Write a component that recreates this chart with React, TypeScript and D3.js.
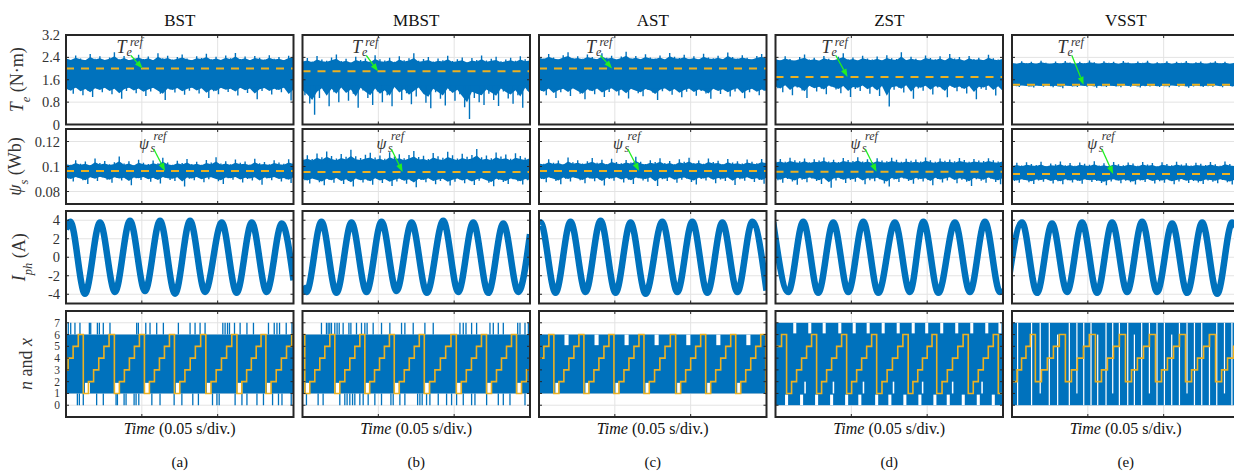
import React from 'react';
import * as d3 from 'd3';

// time axis in ms: 0..150 = three divisions of 0.05 s
const methods = ['BST', 'MBST', 'AST', 'ZST', 'VSST'];
const captions = ['(a)', '(b)', '(c)', '(d)', '(e)'];
const timeTicks = [50, 100];
const teTicks = [0, 0.8, 1.6, 2.4, 3.2];
const teTickLabels = ['0', '0.8', '1.6', '2.4', '3.2'];
const psiTicks = [0.08, 0.1, 0.12];
const psiTickLabels = ['0.08', '0.1', '0.12'];
const iTicks = [-4, -2, 0, 2, 4];
const iTickLabels = ['-4', '-2', '0', '2', '4'];
const nTicks = [0, 1, 2, 3, 4, 5, 6, 7];
const nTickLabels = ['0', '1', '2', '3', '4', '5', '6', '7'];

// reference values
const teRef = [2.0, 1.9, 2.0, 1.7, 1.42];
const psiRef = [0.0965, 0.0957, 0.0965, 0.0958, 0.094];
const teArrowT = [50.5, 49.8, 48.2, 47.5, 47.2];
const psiArrowT = [65.3, 66.0, 66.0, 66.6, 66.7];

// solid part of the ripple band (upper / lower)
const teCoreHi = [2.3, 2.2, 2.32, 2.28, 2.17];
const teCoreLo = [1.32, 1.4, 1.3, 1.42, 1.4];
const psiCoreHi = [0.1005, 0.1035, 0.101, 0.102, 0.0995];
const psiCoreLo = [0.092, 0.091, 0.092, 0.092, 0.0905];

// torque ripple extremes (upper / lower), 48 samples over 0..150 ms
const teHiBST = [2.42,2.31,2.47,2.36,2.28,2.52,2.35,2.44,2.31,2.40,2.58,2.33,2.45,2.29,2.38,2.49,2.34,2.43,2.30,2.55,2.37,2.46,2.32,2.41,2.50,2.36,2.29,2.44,2.38,2.53,2.33,2.42,2.31,2.47,2.37,2.56,2.34,2.43,2.30,2.45,2.39,2.32,2.48,2.35,2.41,2.29,2.46,2.50];
const teLoBST = [1.25,1.10,1.32,1.05,1.22,0.98,1.28,1.15,1.30,1.08,1.24,0.92,1.20,1.33,1.12,1.26,1.02,1.18,1.30,1.10,0.88,1.25,1.14,1.29,1.06,1.21,1.32,1.11,1.27,0.95,1.19,1.08,1.30,1.16,1.23,1.04,1.31,1.13,1.26,0.90,1.20,1.29,1.07,1.24,1.15,1.32,0.86,1.18];
const teHiMBST = [2.30,2.38,2.25,2.45,2.32,2.28,2.40,2.50,2.27,2.35,2.22,2.42,2.31,2.36,2.26,2.48,2.33,2.29,2.39,2.24,2.44,2.30,2.37,2.55,2.28,2.34,2.41,2.25,2.36,2.30,2.46,2.27,2.33,2.40,2.23,2.38,2.31,2.47,2.29,2.35,2.42,2.26,2.32,2.39,2.28,2.44,2.33,2.37];
const teLoMBST = [1.05,0.75,0.35,0.95,1.20,0.65,1.15,0.80,1.25,0.85,1.10,0.60,1.22,0.95,0.70,1.18,0.80,1.05,0.65,1.28,0.88,1.12,0.72,1.00,1.24,0.78,0.58,1.15,0.92,0.68,1.20,0.85,1.08,0.62,0.20,0.95,0.80,0.70,1.10,0.88,0.66,1.18,0.93,0.74,1.05,0.60,1.22,0.82];
const teHiAST = [2.45,2.36,2.52,2.40,2.33,2.48,2.58,2.38,2.44,2.35,2.50,2.41,2.34,2.55,2.39,2.46,2.32,2.43,2.60,2.37,2.45,2.34,2.51,2.40,2.36,2.47,2.33,2.56,2.42,2.38,2.49,2.35,2.44,2.31,2.53,2.40,2.37,2.46,2.34,2.57,2.41,2.36,2.48,2.39,2.33,2.45,2.52,2.40];
const teLoAST = [1.20,1.05,1.28,0.95,1.15,1.25,1.02,1.30,1.10,0.90,1.22,1.08,1.27,0.98,1.16,1.30,1.04,1.21,0.93,1.26,1.12,1.01,1.24,1.14,0.88,1.19,1.29,1.06,1.23,0.97,1.17,1.28,1.03,1.20,1.11,0.92,1.26,1.09,1.22,1.00,1.18,1.30,0.94,1.15,1.25,1.05,1.21,1.10];
const teHiZST = [2.38,2.30,2.44,2.34,2.27,2.41,2.50,2.32,2.39,2.28,2.45,2.35,2.31,2.42,2.55,2.33,2.40,2.29,2.46,2.36,2.32,2.43,2.30,2.48,2.37,2.34,2.58,2.31,2.42,2.35,2.29,2.47,2.38,2.33,2.44,2.30,2.52,2.36,2.41,2.28,2.45,2.34,2.39,2.31,2.49,2.37,2.32,2.43];
const teLoZST = [1.30,1.15,1.38,1.05,1.32,1.22,0.95,1.35,1.18,1.28,1.08,1.36,1.25,1.12,1.33,0.98,1.27,1.20,1.37,1.10,1.30,1.02,1.34,0.64,1.24,1.31,1.14,1.38,0.92,1.29,1.21,1.35,1.07,1.32,1.26,0.97,1.36,1.19,1.30,1.11,1.34,0.90,1.28,1.23,1.37,1.04,1.31,0.95];
const teHiVSST = [2.22,2.17,2.26,2.20,2.24,2.15,2.28,2.21,2.18,2.25,2.19,2.27,2.22,2.16,2.24,2.20,2.29,2.23,2.18,2.26,2.21,2.24,2.17,2.27,2.22,2.19,2.25,2.21,2.28,2.18,2.23,2.20,2.26,2.17,2.24,2.21,2.27,2.19,2.23,2.25,2.18,2.22,2.26,2.20,2.24,2.17,2.23,2.25];
const teLoVSST = [1.38,1.34,1.40,1.36,1.32,1.39,1.35,1.41,1.33,1.37,1.30,1.39,1.36,1.34,1.40,1.35,1.38,1.31,1.37,1.34,1.39,1.36,1.33,1.40,1.35,1.38,1.32,1.37,1.36,1.39,1.34,1.37,1.33,1.40,1.35,1.38,1.31,1.36,1.39,1.34,1.37,1.35,1.40,1.33,1.38,1.36,1.34,1.39];

// stator flux ripple extremes (Wb)
const psiHiBST = [0.1030,0.1015,0.1050,0.1022,0.1040,0.1012,0.1065,0.1028,0.1045,0.1018,0.1035,0.1080,0.1025,0.1042,0.1010,0.1055,0.1030,0.1020,0.1048,0.1026,0.1070,0.1033,0.1015,0.1046,0.1029,0.1060,0.1021,0.1038,0.1014,0.1052,0.1032,0.1075,0.1024,0.1043,0.1018,0.1057,0.1031,0.1040,0.1016,0.1063,0.1027,0.1036,0.1019,0.1050,0.1033,0.1022,0.1058,0.1035];
const psiLoBST = [0.0905,0.0880,0.0912,0.0890,0.0860,0.0908,0.0885,0.0915,0.0895,0.0870,0.0910,0.0888,0.0902,0.0850,0.0906,0.0892,0.0914,0.0878,0.0900,0.0865,0.0911,0.0893,0.0884,0.0908,0.0840,0.0903,0.0890,0.0913,0.0875,0.0899,0.0909,0.0882,0.0860,0.0906,0.0894,0.0912,0.0872,0.0901,0.0889,0.0910,0.0855,0.0904,0.0891,0.0914,0.0880,0.0898,0.0868,0.0907];
const psiHiMBST = [0.1070,0.1090,0.1060,0.1105,0.1075,0.1120,0.1085,0.1065,0.1100,0.1078,0.1135,0.1082,0.1068,0.1095,0.1110,0.1072,0.1088,0.1062,0.1115,0.1080,0.1098,0.1066,0.1092,0.1125,0.1076,0.1087,0.1060,0.1108,0.1083,0.1070,0.1118,0.1091,0.1064,0.1102,0.1079,0.1093,0.1140,0.1074,0.1089,0.1067,0.1112,0.1081,0.1096,0.1063,0.1106,0.1085,0.1071,0.1099];
const psiLoMBST = [0.0890,0.0865,0.0900,0.0875,0.0850,0.0895,0.0870,0.0905,0.0860,0.0885,0.0840,0.0898,0.0872,0.0888,0.0855,0.0902,0.0868,0.0892,0.0845,0.0880,0.0897,0.0862,0.0886,0.0835,0.0893,0.0874,0.0903,0.0858,0.0884,0.0896,0.0848,0.0878,0.0899,0.0866,0.0890,0.0852,0.0887,0.0901,0.0870,0.0843,0.0894,0.0877,0.0860,0.0898,0.0882,0.0856,0.0891,0.0873];
const psiHiAST = [0.1040,0.1022,0.1058,0.1030,0.1048,0.1018,0.1072,0.1035,0.1050,0.1025,0.1042,0.1068,0.1031,0.1055,0.1020,0.1062,0.1037,0.1027,0.1053,0.1033,0.1078,0.1039,0.1021,0.1051,0.1036,0.1066,0.1028,0.1045,0.1019,0.1059,0.1038,0.1070,0.1029,0.1049,0.1023,0.1064,0.1037,0.1046,0.1020,0.1060,0.1032,0.1043,0.1024,0.1056,0.1039,0.1027,0.1061,0.1041];
const psiLoAST = [0.0900,0.0875,0.0908,0.0885,0.0858,0.0903,0.0880,0.0910,0.0890,0.0866,0.0905,0.0883,0.0897,0.0848,0.0901,0.0887,0.0909,0.0873,0.0895,0.0860,0.0906,0.0888,0.0879,0.0903,0.0845,0.0898,0.0885,0.0908,0.0870,0.0894,0.0904,0.0877,0.0856,0.0901,0.0889,0.0907,0.0867,0.0896,0.0884,0.0905,0.0852,0.0899,0.0886,0.0909,0.0876,0.0893,0.0863,0.0902];
const psiHiZST = [0.1045,0.1060,0.1038,0.1070,0.1050,0.1042,0.1065,0.1035,0.1058,0.1048,0.1072,0.1040,0.1055,0.1037,0.1068,0.1052,0.1044,0.1075,0.1041,0.1059,0.1036,0.1066,0.1049,0.1043,0.1070,0.1054,0.1039,0.1062,0.1046,0.1057,0.1040,0.1073,0.1051,0.1038,0.1064,0.1047,0.1056,0.1042,0.1069,0.1053,0.1039,0.1061,0.1048,0.1044,0.1067,0.1050,0.1041,0.1063];
const psiLoZST = [0.0890,0.0870,0.0900,0.0880,0.0855,0.0895,0.0875,0.0905,0.0885,0.0860,0.0898,0.0830,0.0888,0.0902,0.0868,0.0893,0.0878,0.0906,0.0858,0.0891,0.0883,0.0899,0.0865,0.0840,0.0896,0.0876,0.0904,0.0884,0.0862,0.0897,0.0881,0.0892,0.0850,0.0900,0.0873,0.0889,0.0907,0.0866,0.0894,0.0879,0.0845,0.0898,0.0886,0.0870,0.0903,0.0877,0.0859,0.0895];
const psiHiVSST = [0.1015,0.1030,0.1008,0.1035,0.1020,0.1012,0.1038,0.1005,0.1025,0.1018,0.1040,0.1010,0.1028,0.1006,0.1033,0.1022,0.1014,0.1042,0.1009,0.1026,0.1004,0.1036,0.1019,0.1011,0.1032,0.1024,0.1007,0.1037,0.1016,0.1029,0.1003,0.1034,0.1021,0.1010,0.1039,0.1017,0.1027,0.1008,0.1031,0.1023,0.1013,0.1036,0.1018,0.1006,0.1041,0.1020,0.1012,0.1030];
const psiLoVSST = [0.0885,0.0870,0.0892,0.0875,0.0860,0.0888,0.0878,0.0895,0.0865,0.0882,0.0858,0.0890,0.0872,0.0886,0.0862,0.0893,0.0876,0.0884,0.0868,0.0850,0.0880,0.0891,0.0866,0.0887,0.0874,0.0856,0.0889,0.0877,0.0894,0.0864,0.0883,0.0871,0.0890,0.0859,0.0881,0.0896,0.0869,0.0885,0.0873,0.0861,0.0888,0.0879,0.0867,0.0892,0.0875,0.0857,0.0884,0.0870];

// phase current: [t ms, A] at peaks and troughs
const iphBST = [[0,3.0],[2.8,3.85],[12.5,-3.95],[22.4,3.75],[32.3,-3.75],[42.2,3.95],[52.1,-3.65],[62.0,3.95],[71.9,-3.95],[81.8,3.95],[91.7,-3.75],[102.7,3.75],[112.5,-3.85],[122.5,3.75],[132.3,-3.75],[142.3,3.65],[150,-2.5]];
const iphMBST = [[0,-3.1],[2.6,-3.75],[12.5,3.85],[22.4,-3.85],[32.3,3.75],[42.2,-3.75],[52.1,3.85],[62.0,-3.65],[71.9,3.75],[82.0,-3.85],[92.8,3.95],[102.7,-3.75],[112.6,3.75],[122.5,-3.85],[132.4,3.65],[142.3,-3.75],[150,2.5]];
const iphAST = [[0,3.6],[1.0,3.75],[10.9,-3.85],[20.8,3.85],[30.7,-3.75],[40.6,3.95],[50.5,-3.85],[60.4,3.75],[70.3,-3.95],[81.3,3.85],[91.2,-3.75],[101.1,3.85],[111.0,-3.85],[120.9,3.75],[130.8,-3.75],[140.7,3.85],[150,-3.6]];
const iphZST = [[-1.5,3.75],[8.4,-3.75],[18.3,3.85],[28.2,-3.85],[38.1,3.75],[48.0,-3.75],[57.9,3.85],[67.8,-3.85],[78.7,3.75],[88.6,-3.75],[97.5,3.85],[107.4,-3.85],[118.3,3.75],[128.2,-3.75],[138.1,3.85],[148.0,-3.75],[150,-3.5]];
const iphVSST = [[-3.3,-3.75],[6.6,3.75],[16.5,-3.85],[26.4,3.65],[36.3,-3.75],[46.2,3.75],[56.1,-3.85],[66.0,3.75],[75.9,-3.75],[85.8,3.85],[95.7,-3.75],[105.6,3.65],[115.5,-3.85],[125.4,3.75],[135.3,-3.95],[145.2,3.75],[150,2.7]];

// switching state n (blue): core band, spikes outside it, white gaps inside it
const nCore = [[1, 6], [1, 6], [1, 6], [0, 7], [0, 7]];
const nUpBST = [1.5,3.1,5.9,9.2,15.4,16.3,20.7,22.0,24.6,29.0,46.6,47.7,52.6,55.4,59.8,64.2,74.1,81.8,85.1,88.4,91.7,103.4,104.9,106.5,107.8,111.1,114.8,119.3,123.6,133.5,137.3,139.1,140.8,145.2,149.0];
const nDownBST = [7.5,8.8,11.4,20.2,24.6,33.0,33.9,38.3,39.6,44.9,46.2,48.0,56.6,62.0,71.3,76.4,83.6,87.3,96.6,99.5,101.0,111.5,116.0,119.3,125.9,130.2,136.2,140.1,142.4,148.5];
const nUpMBST = [12.5,15.8,16.9,18.0,19.1,21.3,22.8,24.2,26.8,30.6,31.9,35.6,38.9,41.1,42.6,46.6,52.1,57.6,65.3,67.5,73.0,80.7,86.2,103.8,106.0,107.8,111.5,114.8,123.6,125.8,129.1,132.4,141.9,143.4,146.7,148.9];
const nDownMBST = [2.6,10.3,13.6,24.6,27.9,29.4,31.2,33.0,34.5,37.8,40.0,43.3,47.7,52.1,58.3,59.8,64.2,67.5,75.9,77.4,78.9,81.8,84.0,89.5,95.0,98.3,101.6,106.0,111.5,113.7,121.4,129.1,132.4,136.8,146.7];
const nUp = [nUpBST, nUpMBST, [], [], []];
const nDown = [nDownBST, nDownMBST, [], [], []];

// [t0, t1, nLow, nHigh]
const nGapsBST = [[12.5,15.8,1,1.9],[32.3,35.6,1,1.9],[52.1,55.0,1,1.9],[72.4,75.2,1,1.9],[92.9,95.5,1,1.9],[113.0,116.2,1,1.9],[132.5,135.1,1,1.9]];
const nGapsMBST = [[2.0,4.5,1,1.9],[21.8,24.3,1,1.9],[41.6,44.1,1,1.9],[61.0,63.5,1,1.9],[80.8,83.3,1,1.9],[101.9,104.4,1,1.9],[121.8,124.3,1,1.9],[141.6,144.1,1,1.9]];
const nGapsAST = [[10.8,13.3,1,1.9],[30.6,33.1,1,1.9],[50.4,52.9,1,1.9],[70.2,72.7,1,1.9],[91.1,93.6,1,1.9],[110.9,113.4,1,1.9],[130.7,133.2,1,1.9],
  [16.8,19.5,5.1,6],[36.6,39.3,5.1,6],[56.4,59.1,5.1,6],[76.2,78.9,5.1,6],[97.1,99.8,5.1,6],[116.9,119.6,5.1,6],[136.7,139.4,5.1,6]];
const nGapsZST = [[11.7,13.7,6.1,7],[21.6,23.6,6.1,7],[31.1,33.1,6.1,7],[41.4,43.4,6.1,7],[50.9,52.9,6.1,7],[60.1,62.1,6.1,7],[70.0,72.0,6.1,7],[79.9,81.9,6.1,7],[89.8,91.8,6.1,7],[98.7,100.7,6.1,7],[108.6,110.6,6.1,7],[118.5,120.5,6.1,7],[128.4,130.4,6.1,7],[138.3,140.3,6.1,7],[147.0,149.0,6.1,7],
  [6.3,8.3,0,0.9],[16.2,18.2,0,0.9],[26.1,28.1,0,0.9],[36.0,38.0,0,0.9],[45.9,47.9,0,0.9],[54.6,56.6,0,0.9],[65.7,67.7,0,0.9],[74.4,76.4,0,0.9],[84.3,86.3,0,0.9],[94.2,96.2,0,0.9],[104.1,106.1,0,0.9],[112.9,114.9,0,0.9],[122.8,124.8,0,0.9],[132.7,134.7,0,0.9],[142.6,144.6,0,0.9],
  [19.0,20.0,1,2],[37.7,38.7,1,2],[57.5,58.5,1,2],[77.3,78.3,1,2],[96.5,97.5,1,2],[116.3,117.3,1,2],[135.7,136.7,1,2]];
const nGapsVSST = [[3.3,4.1,0,7],[12.5,13.3,0,7],[18.2,19.0,1,7],[24.2,25.0,0,7],[29.7,30.5,0,6],[37.4,38.2,0,7],[42.4,43.2,1,7],[46.9,47.7,0,7],[51.7,52.5,0,7],[56.1,56.9,0,6],[61.6,62.4,0,7],[66.0,66.8,1,7],[70.4,71.2,0,7],[75.9,76.7,0,7],[80.3,81.1,0,6],[85.1,85.9,0,7],[90.2,91.0,1,7],[95.2,96.0,0,7],[100.1,100.9,0,7],[104.9,105.7,0,6],[110.0,110.8,0,7],[115.0,115.8,1,7],[119.9,120.7,0,7],[124.7,125.5,0,7],[129.8,130.6,0,6],[134.6,135.4,0,7],[139.7,140.5,1,7],[144.6,145.4,0,7]];
const nGaps = [nGapsBST, nGapsMBST, nGapsAST, nGapsZST, nGapsVSST];

// sector number x (yellow): [t ms, sector] at each step
const xBST = [[0,3],[1.4,4],[4.7,5],[8.1,6],[11.4,1],[14.8,2],[18.2,3],[21.6,4],[25.0,5],[28.4,6],[31.9,1],[35.2,2],[38.5,3],[41.8,4],[45.1,5],[48.4,6],[51.7,1],[55.0,2],[58.3,3],[61.6,4],[64.9,5],[68.2,6],[71.5,1],[75.0,2],[78.4,3],[81.9,4],[85.3,5],[88.8,6],[92.2,1],[95.6,2],[99.0,3],[102.5,4],[105.9,5],[109.3,6],[112.7,1],[115.9,2],[119.1,3],[122.2,4],[125.4,5],[128.6,6],[131.8,1],[135.2,2],[138.6,3],[142.0,4],[145.4,5],[148.8,6]];
const xMBST = [[0,6],[1.5,1],[4.8,2],[8.1,3],[11.4,4],[14.7,5],[18.0,6],[21.3,1],[24.6,2],[27.9,3],[31.2,4],[34.5,5],[37.8,6],[41.1,1],[44.3,2],[47.5,3],[50.8,4],[54.0,5],[57.3,6],[60.5,1],[63.8,2],[67.1,3],[70.4,4],[73.7,5],[77.0,6],[80.3,1],[83.8,2],[87.3,3],[90.9,4],[94.4,5],[97.9,6],[101.4,1],[104.7,2],[108.0,3],[111.4,4],[114.7,5],[118.0,6],[121.3,1],[124.6,2],[127.9,3],[131.2,4],[134.5,5],[137.8,6],[141.1,1],[144.4,2],[147.7,3]];
const xAST = [[0,4],[3.2,5],[6.5,6],[9.8,1],[13.1,2],[16.4,3],[19.7,4],[23.0,5],[26.3,6],[29.6,1],[32.9,2],[36.2,3],[39.5,4],[42.8,5],[46.1,6],[49.4,1],[52.7,2],[56.0,3],[59.3,4],[62.6,5],[65.9,6],[69.2,1],[72.7,2],[76.2,3],[79.7,4],[83.1,5],[86.6,6],[90.1,1],[93.4,2],[96.7,3],[100.0,4],[103.3,5],[106.6,6],[109.9,1],[113.2,2],[116.5,3],[119.8,4],[123.1,5],[126.4,6],[129.7,1],[133.0,2],[136.3,3],[139.6,4],[142.9,5],[146.2,6],[149.5,1]];
const xZST = [[0,5],[4.0,6],[7.3,1],[10.6,2],[13.9,3],[17.2,4],[20.5,5],[23.8,6],[27.1,1],[30.4,2],[33.7,3],[37.0,4],[40.3,5],[43.6,6],[46.9,1],[50.2,2],[53.5,3],[56.8,4],[60.1,5],[63.4,6],[66.7,1],[70.2,2],[73.6,3],[77.1,4],[80.6,5],[84.0,6],[87.5,1],[90.6,2],[93.8,3],[96.9,4],[100.0,5],[103.2,6],[106.3,1],[109.8,2],[113.3,3],[116.7,4],[120.2,5],[123.7,6],[127.1,1],[130.4,2],[133.7,3],[137.0,4],[140.3,5],[143.6,6],[146.9,1]];
const xVSST = [[0,2],[3.3,3],[6.3,4],[9.2,5],[12.1,6],[15.4,2],[19.4,3],[23.3,4],[27.3,5],[31.2,6],[35.2,2],[39.2,3],[43.1,4],[47.1,5],[51.0,6],[55.0,2],[59.0,3],[62.9,4],[66.9,5],[70.8,6],[74.8,2],[78.8,3],[82.7,4],[86.7,5],[90.6,6],[94.6,2],[98.6,3],[102.5,4],[106.5,5],[110.4,6],[114.4,2],[118.4,3],[122.3,4],[126.3,5],[130.2,6],[134.2,2],[138.2,3],[142.1,4],[146.1,5]];

const teHi = [teHiBST, teHiMBST, teHiAST, teHiZST, teHiVSST];
const teLo = [teLoBST, teLoMBST, teLoAST, teLoZST, teLoVSST];
const psiHi = [psiHiBST, psiHiMBST, psiHiAST, psiHiZST, psiHiVSST];
const psiLo = [psiLoBST, psiLoMBST, psiLoAST, psiLoZST, psiLoVSST];
const iph = [iphBST, iphMBST, iphAST, iphZST, iphVSST];
const sectors = [xBST, xMBST, xAST, xZST, xVSST];

// ---- layout ----
const PW = 227.5;
const colLeft = [66, 302.5, 539, 775.5, 1012];
const rowBox = [
  { top: 35, bottom: 124.5, domain: [0, 3.2] },
  { top: 129, bottom: 204, domain: [0.07, 0.13] },
  { top: 211, bottom: 303.5, domain: [-5, 5] },
  { top: 311, bottom: 417, domain: [-1, 8] },
];
const rowTicks = [teTicks, psiTicks, iTicks, nTicks];
const rowTickLabels = [teTickLabels, psiTickLabels, iTickLabels, nTickLabels];
const rowTickSize = [14.5, 14.5, 14.5, 11.5];
const titleBaseX = [23, 21, 25, 31.5];

const blue = '#0072BD';
const yellow = '#EDB120';
const green = '#22EE22';
const axisCol = '#262626';
const gridCol = '#E3E3E3';
const txt = '#333333';
const font = '"Liberation Serif", "Times New Roman", Times, serif';

const Arrow = ({ x1, y1, x2, y2 }) => {
  const a = Math.atan2(y2 - y1, x2 - x1);
  const L = 8, w = 3;
  const bx = x2 - L * Math.cos(a), by = y2 - L * Math.sin(a);
  const pts = [
    [x2, y2],
    [bx + w * Math.sin(a), by - w * Math.cos(a)],
    [bx - w * Math.sin(a), by + w * Math.cos(a)],
  ];
  return (
    <g>
      <line x1={x1} y1={y1} x2={bx} y2={by} stroke={green} strokeWidth={1.3} />
      <polygon points={pts.map((p) => p.join(',')).join(' ')} fill={green} />
    </g>
  );
};

// ripple band: solid core, half-height jagged fringe, full-height needles
const RippleBand = ({ x, y, hi, lo, coreHi, coreLo }) => {
  const n = hi.length;
  const ts = d3.range(n).map((i) => (i * 150) / (n - 1));
  const half = 150 / (n - 1) / 2;
  const fringe = d3
    .area<number>()
    .x((i) => x(ts[i]))
    .y1((i) => y(Math.max(coreHi, coreHi + 0.5 * (hi[i] - coreHi))))
    .y0((i) => y(Math.min(coreLo, coreLo + 0.5 * (lo[i] - coreLo))));
  return (
    <g>
      <path d={fringe(d3.range(n))} fill={blue} />
      <rect x={x(0)} width={x(150) - x(0)} y={y(coreHi)} height={y(coreLo) - y(coreHi)} fill={blue} />
      {hi.map((v, i) => (
        <line key={'h' + i} x1={x(ts[i])} x2={x(ts[i])} y1={y(coreHi)} y2={y(v)} stroke={blue} strokeWidth={1.4} />
      ))}
      {lo.map((v, i) => (
        <line key={'l' + i} x1={x(ts[i] + half)} x2={x(ts[i] + half)} y1={y(coreLo)} y2={y(v)} stroke={blue} strokeWidth={1.4} />
      ))}
    </g>
  );
};

const App = () => {
  const xs = colLeft.map((l) => d3.scaleLinear().domain([0, 150]).range([l, l + PW]));
  const ys = rowBox.map((b) => d3.scaleLinear().domain(b.domain).range([b.bottom, b.top]));

  const panels = [];
  methods.forEach((m, c) => {
    const x = xs[c];
    rowBox.forEach((b, r) => {
      const y = ys[r];
      const id = `clip-${c}-${r}`;
      let content = null;
      if (r === 0 || r === 1) {
        const ref = r === 0 ? teRef[c] : psiRef[c];
        content = (
          <g>
            {r === 0 ? (
              <RippleBand x={x} y={y} hi={teHi[c]} lo={teLo[c]} coreHi={teCoreHi[c]} coreLo={teCoreLo[c]} />
            ) : (
              <RippleBand x={x} y={y} hi={psiHi[c]} lo={psiLo[c]} coreHi={psiCoreHi[c]} coreLo={psiCoreLo[c]} />
            )}
            <line x1={x(0)} x2={x(150)} y1={y(ref)} y2={y(ref)} stroke={yellow} strokeWidth={2} strokeDasharray="8,7" />
          </g>
        );
      } else if (r === 2) {
        const line = d3
          .line<number[]>()
          .x((d) => x(d[0]))
          .y((d) => y(d[1]))
          .curve(d3.curveMonotoneX);
        content = (
          <path d={line(iph[c])} fill="none" stroke={blue} strokeWidth={6.5} strokeLinejoin="round" />
        );
      } else {
        const step = d3
          .line<number[]>()
          .x((d) => x(d[0]))
          .y((d) => y(d[1]))
          .curve(d3.curveStepAfter);
        const s = sectors[c];
        const stepPts = [...s, [150, s[s.length - 1][1]]];
        content = (
          <g>
            <rect x={x(0)} width={x(150) - x(0)} y={y(nCore[c][1])} height={y(nCore[c][0]) - y(nCore[c][1])} fill={blue} />
            {nGaps[c].map((g, k) => (
              <rect key={k} x={x(g[0])} width={x(g[1]) - x(g[0])} y={y(g[3])} height={y(g[2]) - y(g[3])} fill="#fff" />
            ))}
            {nUp[c].map((t, k) => (
              <line key={'u' + k} x1={x(t)} x2={x(t)} y1={y(6)} y2={y(7)} stroke={blue} strokeWidth={1.3} />
            ))}
            {nDown[c].map((t, k) => (
              <line key={'d' + k} x1={x(t)} x2={x(t)} y1={y(1)} y2={y(0)} stroke={blue} strokeWidth={1.3} />
            ))}
            <path d={step(stepPts)} fill="none" stroke={yellow} strokeWidth={1.6} />
          </g>
        );
      }
      panels.push(
        <g key={id}>
          <clipPath id={id}>
            <rect x={x(0)} y={b.top} width={PW} height={b.bottom - b.top} />
          </clipPath>
          {rowTicks[r].map((v) => (
            <line key={'g' + v} x1={x(0)} x2={x(150)} y1={y(v)} y2={y(v)} stroke={gridCol} strokeWidth={1} />
          ))}
          {timeTicks.map((t) => (
            <line key={'v' + t} x1={x(t)} x2={x(t)} y1={b.top} y2={b.bottom} stroke={gridCol} strokeWidth={1} />
          ))}
          <g clipPath={`url(#${id})`}>{content}</g>
          {rowTicks[r].map((v) => (
            <g key={'t' + v} stroke={axisCol} strokeWidth={1}>
              <line x1={x(0)} x2={x(0) + 3} y1={y(v)} y2={y(v)} />
              <line x1={x(150) - 3} x2={x(150)} y1={y(v)} y2={y(v)} />
            </g>
          ))}
          {timeTicks.map((t) => (
            <g key={'tx' + t} stroke={axisCol} strokeWidth={1}>
              <line x1={x(t)} x2={x(t)} y1={b.top} y2={b.top + 3} />
              <line x1={x(t)} x2={x(t)} y1={b.bottom - 3} y2={b.bottom} />
            </g>
          ))}
          <rect x={x(0)} y={b.top} width={PW} height={b.bottom - b.top} fill="none" stroke={axisCol} strokeWidth={2} />
          {c === 0 &&
            rowTicks[r].map((v, k) => (
              <text key={'l' + v} x={x(0) - 6} y={y(v)} textAnchor="end" dominantBaseline="central" fontSize={rowTickSize[r]} fill={txt} style={{ fontFamily: font }}>
                {rowTickLabels[r][k]}
              </text>
            ))}
        </g>
      );
    });

    // reference annotations
    const tx = x(teArrowT[c]);
    const ty = ys[0](teRef[c]);
    const px = x(psiArrowT[c]);
    const py = ys[1](psiRef[c]);
    panels.push(
      <g key={'ann' + c} fill={txt} fontStyle="italic" style={{ fontFamily: font }}>
        <text x={tx - 26} y={53.3} fontSize={18}>T</text>
        <text x={tx - 16} y={56} fontSize={12}>e</text>
        <text x={tx - 12.7} y={46} fontSize={12}>ref</text>
        <Arrow x1={tx - 11.7} y1={55.5} x2={tx} y2={ty} />
        <text x={px - 26} y={148.5} fontSize={16}>ψ</text>
        <text x={px - 14.5} y={151.5} fontSize={12}>s</text>
        <text x={px - 11.5} y={139.5} fontSize={12}>ref</text>
        <Arrow x1={px - 11.3} y1={149} x2={px} y2={py} />
      </g>
    );

    const cx = x(75);
    panels.push(
      <g key={'lab' + c} fill="#111" style={{ fontFamily: font }}>
        <text x={cx} y={26} textAnchor="middle" fontSize={17}>{m}</text>
        <text x={cx} y={434} textAnchor="middle" fontSize={16}>
          <tspan fontStyle="italic">Time</tspan> (0.05 s/div.)
        </text>
        <text x={cx} y={467} textAnchor="middle" fontSize={15}>{captions[c]}</text>
      </g>
    );
  });

  const rowMid = rowBox.map((b) => (b.top + b.bottom) / 2);

  return (
    <svg width={1234} height={472} style={{ position: 'absolute', left: 0, top: 0, background: '#fff', fontFamily: font }}>
      <rect width={1234} height={472} fill="#fff" />
      {panels}
      <g fill={txt} fontSize={18} style={{ fontFamily: font }}>
        <text transform={`translate(${titleBaseX[0]},${rowMid[0]}) rotate(-90)`} textAnchor="middle">
          <tspan fontStyle="italic">T</tspan>
          <tspan fontStyle="italic" fontSize={12.5} baselineShift="sub">e</tspan>
          <tspan> (N·m)</tspan>
        </text>
        <text transform={`translate(${titleBaseX[1]},${rowMid[1]}) rotate(-90)`} textAnchor="middle">
          <tspan fontStyle="italic">ψ</tspan>
          <tspan fontStyle="italic" fontSize={12.5} baselineShift="sub">s</tspan>
          <tspan> (Wb)</tspan>
        </text>
        <text transform={`translate(${titleBaseX[2]},${rowMid[2]}) rotate(-90)`} textAnchor="middle">
          <tspan fontStyle="italic">I</tspan>
          <tspan fontStyle="italic" fontSize={12.5} baselineShift="sub">ph</tspan>
          <tspan> (A)</tspan>
        </text>
        <text transform={`translate(${titleBaseX[3]},${rowMid[3]}) rotate(-90)`} textAnchor="middle">
          <tspan fontStyle="italic">n</tspan>
          <tspan> and </tspan>
          <tspan fontStyle="italic">x</tspan>
        </text>
      </g>
    </svg>
  );
};

export default App;
